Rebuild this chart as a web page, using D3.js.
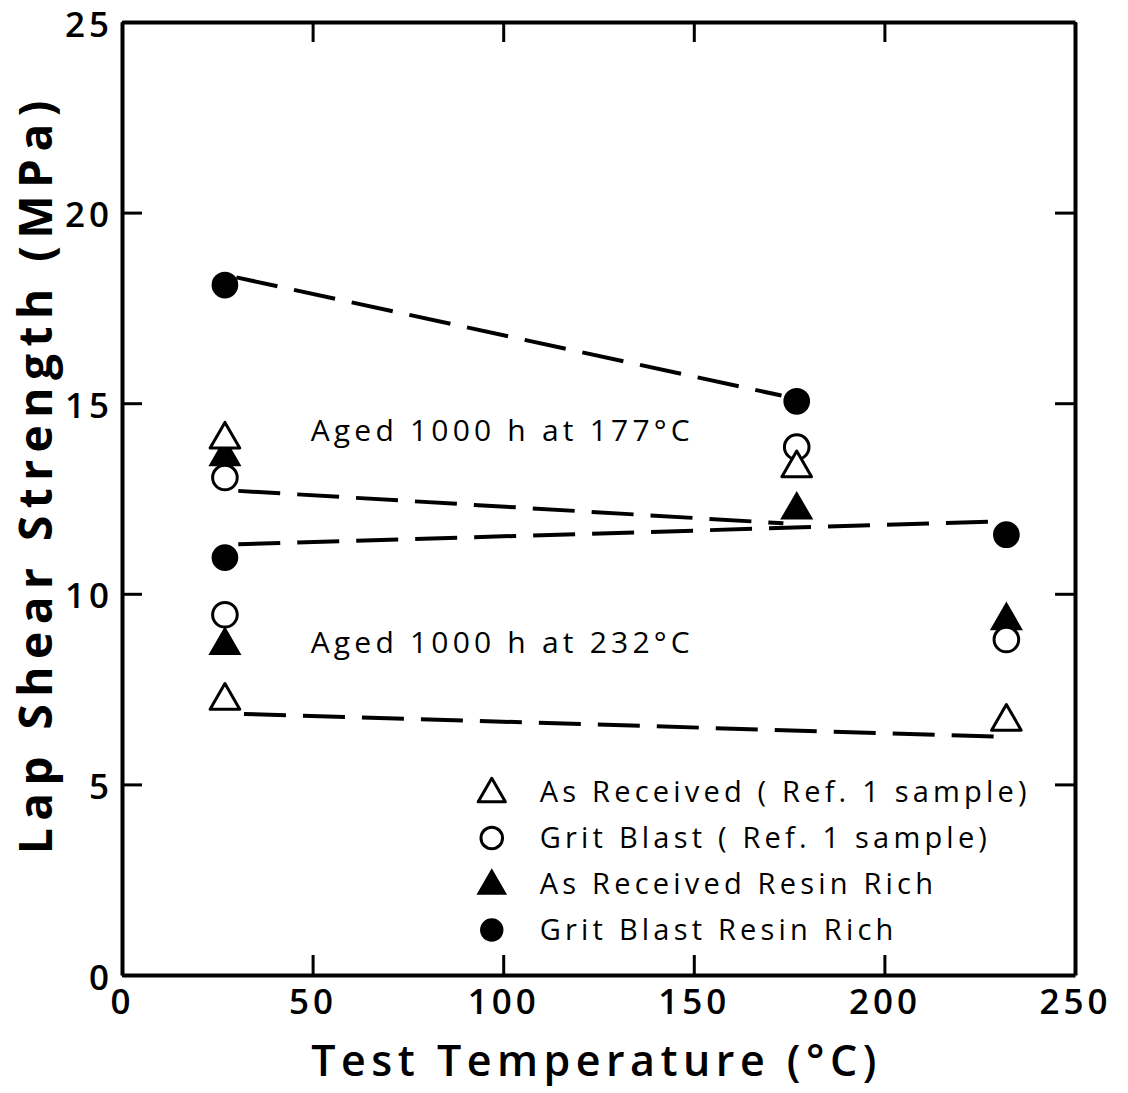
<!DOCTYPE html>
<html>
<head>
<meta charset="utf-8">
<script src="https://cdn.jsdelivr.net/npm/d3@7"></script>
<style>
  html, body { margin: 0; padding: 0; background: #fff; }
  svg { display: block; }
  text { font-family: "Open Sans", "DejaVu Sans", sans-serif; fill: #000; }
</style>
</head>
<body>
<div id="chart"></div>
<script>
// test temperatures (°C) and lap shear strength (MPa)
const tempAged177 = [27, 177];
const tempAged232 = [27, 232];

const asReceived177 = [14.1, 13.35];
const gritBlast177 = [13.05, 13.85];
const asReceivedRR177 = [13.65, 12.25];
const gritBlastRR177 = [18.1, 15.05];

const asReceived232 = [7.25, 6.7];
const gritBlast232 = [9.45, 8.8];
const asReceivedRR232 = [8.7, 9.35];
const gritBlastRR232 = [10.95, 11.55];

// dashed trend lines, [temp, strength] end points
const trendLines = [
  [[30, 18.3], [173, 15.2]],
  [[30.5, 12.7], [173.5, 11.85]],
  [[30.5, 11.3], [231, 11.9]],
  [[32, 6.85], [230.5, 6.25]],
];

const xTicks = [0, 50, 100, 150, 200, 250];
const yTicks = [0, 5, 10, 15, 20, 25];

const legendLabels = [
  "As Received ( Ref. 1 sample)",
  "Grit Blast ( Ref. 1 sample)",
  "As Received Resin Rich",
  "Grit Blast Resin Rich",
];
const legendSymbols = ["openTri", "openCircle", "fillTri", "fillCircle"];

const annotations = [
  { t: 49.5, v: 14.0, label: "Aged 1000 h at 177°C" },
  { t: 49.5, v: 8.45, label: "Aged 1000 h at 232°C" },
];

const width = 1128,
  height = 1093;
const margin = { top: 22, right: 53, bottom: 118, left: 122 };

const x = d3.scaleLinear([0, 250], [margin.left, width - margin.right]);
const y = d3.scaleLinear([0, 25], [height - margin.bottom, margin.top]);

const svg = d3
  .select("#chart")
  .append("svg")
  .attr("width", width)
  .attr("height", height)
  .attr("viewBox", [0, 0, width, height]);

// symbol helpers
const triangle = (size) => d3.symbol(d3.symbolTriangle, size)();
const circle = (size) => d3.symbol(d3.symbolCircle, size)();

function drawSymbol(g, kind, big) {
  const triSize = big ? 380 : 320;
  const cirSize = big ? 560 : 430;
  if (kind === "openTri") {
    g.append("path").attr("d", triangle(triSize)).attr("transform", "translate(0,2)")
      .attr("fill", "#fff").attr("stroke", "#000").attr("stroke-width", 3)
      .attr("stroke-linejoin", "round");
  } else if (kind === "fillTri") {
    g.append("path").attr("d", triangle(triSize)).attr("transform", "translate(0,2)")
      .attr("fill", "#000").attr("stroke", "#000").attr("stroke-width", 2);
  } else if (kind === "openCircle") {
    g.append("path").attr("d", circle(cirSize * 0.85))
      .attr("fill", "#fff").attr("stroke", "#000").attr("stroke-width", 3);
  } else {
    g.append("path").attr("d", circle(cirSize)).attr("fill", "#000");
  }
}

// dashed lines
const line = d3.line().x((d) => x(d[0])).y((d) => y(d[1]));
svg
  .append("g")
  .selectAll("path")
  .data(trendLines)
  .join("path")
  .attr("d", line)
  .attr("fill", "none")
  .attr("stroke", "#000")
  .attr("stroke-width", 4)
  .attr("stroke-dasharray", "42,17");

// data points
const seriesSets = [
  { sym: "fillCircle", t: tempAged177, v: gritBlastRR177 },
  { sym: "openCircle", t: tempAged177, v: gritBlast177 },
  { sym: "fillTri", t: tempAged177, v: asReceivedRR177 },
  { sym: "openTri", t: tempAged177, v: asReceived177 },
  { sym: "fillCircle", t: tempAged232, v: gritBlastRR232 },
  { sym: "fillTri", t: tempAged232, v: asReceivedRR232 },
  { sym: "openCircle", t: tempAged232, v: gritBlast232 },
  { sym: "openTri", t: tempAged232, v: asReceived232 },
];

const pts = svg.append("g");
seriesSets.forEach((s) => {
  s.t.forEach((t, i) => {
    const g = pts.append("g").attr("transform", `translate(${x(t)},${y(s.v[i])})`);
    drawSymbol(g, s.sym, true);
  });
});

// axes with inward ticks, framed on all four sides
const tickLen = 20;
const styleLabels = (g) =>
  g.selectAll(".tick text")
    .attr("font-size", 35)
    .attr("font-weight", 600)
    .attr("letter-spacing", 4)
    .attr("fill", "#000");

svg
  .append("g")
  .attr("transform", `translate(0,${y(0)})`)
  .call(d3.axisBottom(x).tickValues(xTicks).tickSize(-tickLen).tickPadding(14).tickSizeOuter(0))
  .call((g) => g.select(".domain").attr("stroke-width", 4))
  .call((g) => g.selectAll(".tick line").attr("stroke-width", 3))
  .call(styleLabels);

svg
  .append("g")
  .attr("transform", `translate(0,${y(25)})`)
  .call(d3.axisTop(x).tickValues(xTicks).tickSize(-tickLen).tickFormat("").tickSizeOuter(0))
  .call((g) => g.select(".domain").attr("stroke-width", 4))
  .call((g) => g.selectAll(".tick line").attr("stroke-width", 3));

svg
  .append("g")
  .attr("transform", `translate(${x(0)},0)`)
  .call(d3.axisLeft(y).tickValues(yTicks).tickSize(-tickLen).tickPadding(9).tickSizeOuter(0))
  .call((g) => g.select(".domain").attr("stroke-width", 4))
  .call((g) => g.selectAll(".tick line").attr("stroke-width", 3))
  .call(styleLabels)
  .call((g) => g.selectAll(".tick text").attr("dy", "0.4em"));

svg
  .append("g")
  .attr("transform", `translate(${x(250)},0)`)
  .call(d3.axisRight(y).tickValues(yTicks).tickSize(-tickLen).tickFormat("").tickSizeOuter(0))
  .call((g) => g.select(".domain").attr("stroke-width", 4))
  .call((g) => g.selectAll(".tick line").attr("stroke-width", 3));

// annotations
svg
  .append("g")
  .selectAll("text")
  .data(annotations)
  .join("text")
  .attr("x", (d) => x(d.t))
  .attr("y", (d) => y(d.v))
  .attr("font-size", 30)
  .attr("font-weight", 500)
  .attr("letter-spacing", 4.2)
  .text((d) => d.label);

// legend
const legend = svg.append("g").attr("transform", `translate(${x(97)},${y(4.8)})`);
legendLabels.forEach((label, i) => {
  const row = legend.append("g").attr("transform", `translate(0,${i * 46})`);
  drawSymbol(row, legendSymbols[i], false);
  row
    .append("text")
    .attr("x", 48)
    .attr("dy", "0.36em")
    .attr("font-size", 29)
    .attr("font-weight", 500)
    .attr("letter-spacing", 4.2)
    .text(label);
});

// axis titles
svg
  .append("text")
  .attr("x", (x(0) + x(250)) / 2 - 2)
  .attr("y", 1076)
  .attr("text-anchor", "middle")
  .attr("font-size", 43)
  .attr("font-weight", 600)
  .attr("letter-spacing", 5.5)
  .text("Test Temperature (°C)");

svg
  .append("text")
  .attr("transform", `translate(52,${y(13.15)}) rotate(-90)`)
  .attr("text-anchor", "middle")
  .attr("font-size", 46)
  .attr("font-weight", 700)
  .attr("letter-spacing", 7.5)
  .text("Lap Shear Strength (MPa)");
</script>
</body>
</html>
